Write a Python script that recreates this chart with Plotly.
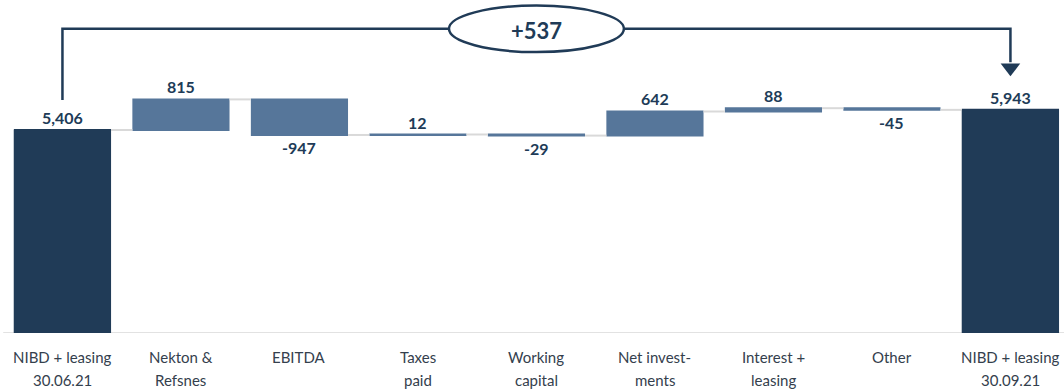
import plotly.graph_objects as go

categories = ["NIBD + leasing<br>30.06.21", "Nekton &<br>Refsnes", "EBITDA", "Taxes<br>paid",
              "Working<br>capital", "Net invest-<br>ments", "Interest +<br>leasing", "Other",
              "NIBD + leasing<br>30.09.21"]
values = [5406, 815, -947, 12, -29, 642, 88, -45, 5943]
measures = ["absolute"] + ["relative"] * 7 + ["absolute"]
value_labels = ["5,406", "815", "-947", "12", "-29", "642", "88", "-45", "5,943"]

NAVY = "#203b57"
STEEL = "#56769a"
LABEL_FONT = "Lato"

x = list(range(len(categories)))

fig = go.Figure()
fig.add_trace(go.Waterfall(
    x=x, y=values, measure=measures,
    width=[0.82] * len(x),
    increasing=dict(marker=dict(color=STEEL, line=dict(width=0))),
    decreasing=dict(marker=dict(color=STEEL, line=dict(width=0))),
    totals=dict(marker=dict(color=NAVY, line=dict(width=0))),
    connector=dict(line=dict(color="#d9d9d9", width=2), mode="between"),
    showlegend=False, hoverinfo="skip",
))

# compute bar tops/bottoms
running = 0
annots = []
for i, (v, m) in enumerate(zip(values, measures)):
    if m == "absolute":
        lo, hi = 0, v
        running = v
        pos_above = True
    else:
        prev = running
        running = prev + v
        lo, hi = min(prev, running), max(prev, running)
        pos_above = v >= 0
    if pos_above:
        annots.append(dict(x=i, y=hi, text=value_labels[i], yanchor="bottom", yshift=1,
                           showarrow=False, xref="x", yref="y",
                           font=dict(family=LABEL_FONT, size=16, color=NAVY, weight="bold")))
    else:
        annots.append(dict(x=i, y=lo, text=value_labels[i], yanchor="top", yshift=-1,
                           showarrow=False, xref="x", yref="y",
                           font=dict(family=LABEL_FONT, size=16, color=NAVY, weight="bold")))

# absolute bars navy: overlay bars
fig.add_trace(go.Bar(x=[0, len(x) - 1], y=[values[0], values[-1]], width=[0.82, 0.82],
                     marker=dict(color=NAVY, line=dict(width=0)), showlegend=False, hoverinfo="skip"))

# category labels
for i, cat in enumerate(categories):
    lines = cat.split("<br>")
    for j, ln in enumerate(lines):
        annots.append(dict(x=i, y=0, xref="x", yref="y", text=ln, showarrow=False,
                           yanchor="middle", yshift=-24 - 23 * j,
                           font=dict(family=LABEL_FONT, size=15, color="#34404d")))

# bracket
start_v, end_v = values[0], values[-1]
delta = end_v - start_v
BR_Y = 8100
fig.add_trace(go.Scatter(x=[0, 0, 8, 8], y=[start_v + 800, BR_Y, BR_Y, end_v + 1270],
                         mode="lines", line=dict(color=NAVY, width=2.5),
                         showlegend=False, hoverinfo="skip"))
fig.add_trace(go.Scatter(x=[8], y=[end_v + 1120], mode="markers",
                         marker=dict(symbol="triangle-down", size=17, color=NAVY, line=dict(width=0)),
                         showlegend=False, hoverinfo="skip"))
fig.add_shape(type="circle", xref="x", yref="y", x0=4 - 0.738, x1=4 + 0.738,
              y0=BR_Y - 620, y1=BR_Y + 620, fillcolor="white",
              line=dict(color=NAVY, width=2.5), layer="above")
annots.append(dict(x=4, y=BR_Y, xref="x", yref="y", text=f"+{delta}", showarrow=False,
                   yshift=-2, font=dict(family=LABEL_FONT, size=22, color=NAVY, weight="bold")))

# baseline
fig.add_shape(type="line", xref="paper", yref="y", x0=0.003, x1=1, y0=0, y1=0,
              line=dict(color="#d9d9d9", width=1.5), layer="below")

fig.update_layout(
    width=1064, height=389,
    margin=dict(l=0, r=0, t=0, b=56),
    paper_bgcolor="white", plot_bgcolor="white",
    barmode="overlay",
    xaxis=dict(range=[-0.527, 8.452], showticklabels=False, showgrid=False, zeroline=False,
               fixedrange=True),
    yaxis=dict(range=[0, 8868], showticklabels=False, showgrid=False, zeroline=False,
               fixedrange=True),
    annotations=annots,
)

fig.write_html("out.html")
